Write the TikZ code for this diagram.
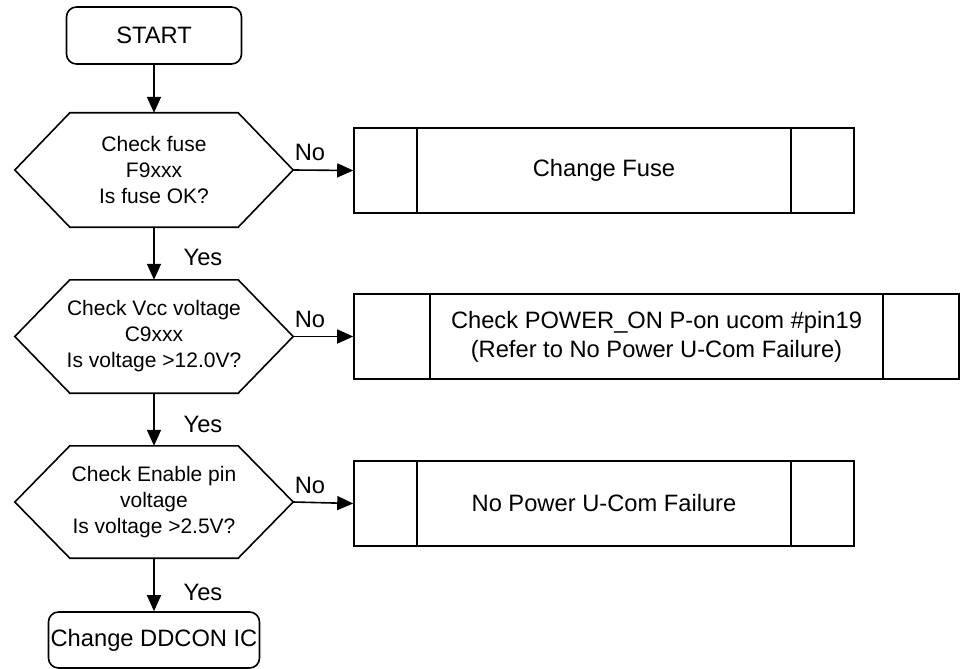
\documentclass[tikz,border=0pt]{standalone}
\usepackage{fontspec}
\setmainfont{Liberation Sans}
\usetikzlibrary{arrows.meta}

\tikzset{
    flow/.style={line width=1.6pt, -{Triangle[length=16pt,width=14pt]}},
    terminal/.style={draw, line width=1.6pt, rounded corners=10pt, inner sep=0pt,
        font=\fontsize{23.7}{29}\selectfont},
    decision/.style={minimum width=278pt, minimum height=114pt, inner sep=0pt,
        align=center, font=\fontsize{21}{26}\selectfont},
    predef/.style={draw, line width=1.6pt, minimum height=85pt, inner sep=0pt,
        align=center, font=\fontsize{23.7}{29}\selectfont,
        path picture={
            \draw[line width=1.6pt]
                ([xshift=#1]path picture bounding box.north west) -- ([xshift=#1]path picture bounding box.south west)
                ([xshift=-#1]path picture bounding box.north east) -- ([xshift=-#1]path picture bounding box.south east);
        }},
    answer/.style={font=\fontsize{23.7}{29}\selectfont}
}

\begin{document}
\begin{tikzpicture}[x=1pt, y=-1pt]
    \useasboundingbox (0,0) rectangle (962,669);

    % Start and end
    \node[terminal, minimum width=175pt, minimum height=57pt] (start) at (154,35.5) {START};
    \node[terminal, minimum width=211pt, minimum height=56pt] (ddcon) at (154,640) {Change DDCON IC};

    % Checks
    \node[decision] (chkfuse) at (154,170) {Check fuse\\F9xxx\\Is fuse OK?};
    \node[decision, minimum height=113pt] (chkvcc) at (154,336.5) {Check Vcc voltage\\C9xxx\\Is voltage >12.0V?};
    \node[decision, minimum height=112pt] (chken) at (154,502) {Check Enable pin\\voltage\\Is voltage >2.5V?};
    \foreach \n in {chkfuse,chkvcc,chken}
        \draw[line width=1.6pt] (\n.west) -- ([xshift=55pt]\n.north west) -- ([xshift=-55pt]\n.north east)
            -- (\n.east) -- ([xshift=-55pt]\n.south east) -- ([xshift=55pt]\n.south west) -- cycle;

    % Actions
    \node[predef=63pt, minimum width=500pt] (fuse) at (604,170.5) {Change Fuse};
    \node[predef=76pt, minimum width=605pt] (pwron) at (656.5,336.5) {Check POWER\_ON P-on ucom \#pin19\\(Refer to No Power U-Com Failure)};
    \node[predef=63pt, minimum width=500pt] (ucom) at (604,503.5) {No Power U-Com Failure};

    % Yes path
    \draw[flow] (start) -- (chkfuse);
    \draw[flow] (chkfuse) -- (chkvcc);
    \draw[flow] (chkvcc) -- (chken);
    \draw[flow] (chken) -- (ddcon);

    % No path
    \draw[flow] (chkfuse.east) -- (fuse.west);
    \draw[flow] (chkvcc.east) -- (pwron.west);
    \draw[flow] (chken.east) -- (ucom.west);

    % Labels
    \node[answer] at (203,257) {Yes};
    \node[answer] at (203,424) {Yes};
    \node[answer] at (203,592) {Yes};
    \node[answer] at (310,152) {No};
    \node[answer] at (310,319) {No};
    \node[answer] at (310,485) {No};

\end{tikzpicture}
\end{document}
